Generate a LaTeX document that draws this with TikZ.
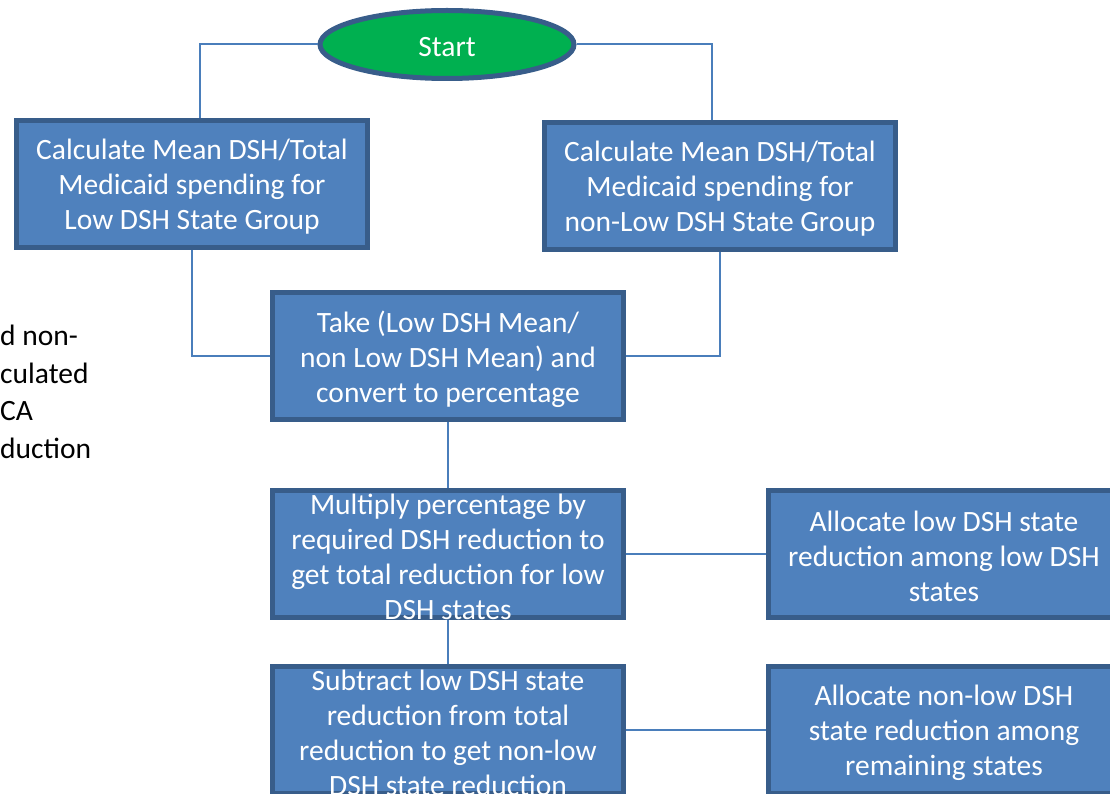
\documentclass[tikz,border=0pt]{standalone}
\usepackage{fontspec}
\setmainfont{Carlito}
\usetikzlibrary{shapes.geometric}
\definecolor{boxfill}{HTML}{4F81BD}
\definecolor{boxline}{HTML}{385D8A}
\definecolor{conn}{HTML}{4A7EBB}
\definecolor{startfill}{HTML}{00B050}
\tikzset{
  stepbox/.style={draw=boxline, line width=5pt, fill=boxfill, rectangle,
    minimum width=351pt, minimum height=127pt, inner sep=0pt, outer sep=2.5pt},
  boxtext/.style={text=white, align=center, inner sep=0pt, yshift=-3pt,
    font=\fontsize{29.5}{35}\selectfont},
  startnode/.style={draw=boxline, line width=5pt, fill=startfill, ellipse,
    minimum width=254pt, minimum height=68pt, inner sep=0pt, outer sep=2.5pt},
  link/.style={draw=conn, line width=2pt},
  sidetext/.style={align=left, anchor=north west, inner sep=0pt,
    font=\fontsize{29.5}{37.5}\selectfont}
}
\begin{document}
\begin{tikzpicture}[x=1pt,y=-1pt]
\clip (0,0) rectangle (1110,794);
\fill[white] (0,0) rectangle (1110,794);

\node[startnode] (start) at (447,44.5) {};
\node[stepbox] (l1) at (192,184) {};
\node[stepbox] (r1) at (720,186) {};
\node[stepbox] (m1) at (448,356) {};
\node[stepbox] (m2) at (448,553.5) {};
\node[stepbox] (r2) at (944,553.5) {};
\node[stepbox] (m3) at (448,730) {};
\node[stepbox] (r3) at (944,730) {};

\coordinate (cl) at (200,44.5);
\coordinate (cr) at (712,44.5);
\draw[link] (start.west) -- (cl) -- (cl |- l1.north);
\draw[link] (start.east) -- (cr) -- (cr |- r1.north);
\draw[link] (l1.south) -- (l1.south |- m1.west) -- (m1.west);
\draw[link] (r1.south) -- (r1.south |- m1.east) -- (m1.east);
\draw[link] (m1.south) -- (m2.north);
\draw[link] (m2.east) -- (r2.west);
\draw[link] (m2.south) -- (m3.north);
\draw[link] (m3.east) -- (r3.west);

\node[boxtext] (startt) at (start) {Start};
\node[boxtext] (l1t) at (l1) {Calculate Mean DSH/Total\\Medicaid spending for\\Low DSH State Group};
\node[boxtext] (r1t) at (r1) {Calculate Mean DSH/Total\\Medicaid spending for\\non-Low DSH State Group};
\node[boxtext] (m1t) at (m1) {Take (Low DSH Mean/\\non Low DSH Mean) and\\convert to percentage};
\node[boxtext] (m2t) at (m2) {Multiply percentage by\\required DSH reduction to\\get total reduction for low\\DSH states};
\node[boxtext] (r2t) at (r2) {Allocate low DSH state\\reduction among low DSH\\states};
\node[boxtext] (m3t) at (m3) {Subtract low DSH state\\reduction from total\\reduction to get non-low\\DSH state reduction};
\node[boxtext] (r3t) at (r3) {Allocate non-low DSH\\state reduction among\\remaining states};

\node[sidetext] (side) at (0,325) {d non-\\culated\\CA\\duction};
\end{tikzpicture}
\end{document}
